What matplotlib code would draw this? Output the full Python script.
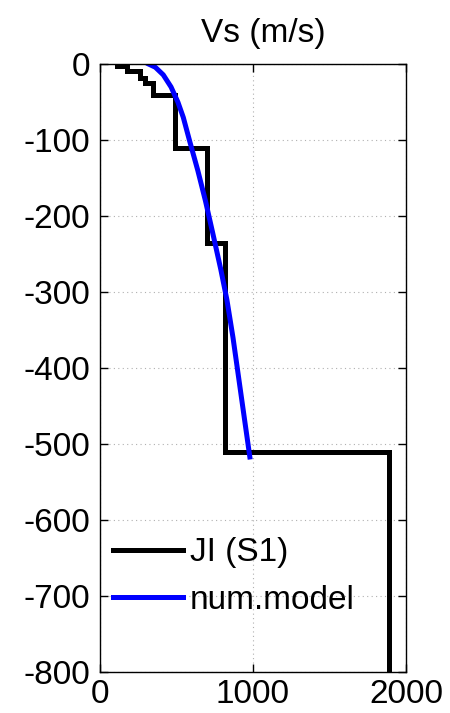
#!/usr/bin/env python3
"""
Vs profile: measured step profile vs numerical model
"""

import matplotlib
matplotlib.use("Agg")
import matplotlib.pyplot as plt

plt.rcParams['font.family'] = ['Liberation Sans', 'DejaVu Sans']
plt.rcParams['axes.unicode_minus'] = False

# measured step profile (layer velocity, layer top, layer bottom)
ji_vs = [111, 180, 260, 292, 345, 490, 702, 820, 1892]
ji_top = [0, -3, -9, -18, -25, -41, -110, -235, -511]
ji_bot = [-3, -9, -18, -25, -41, -110, -235, -511, -800]

# numerical model curve
model_vs = [320, 362, 414, 465, 510, 545, 585, 640, 690, 735, 790, 830, 870, 905, 940, 980]
model_depth = [0, -4, -14, -30, -50, -70, -100, -140, -180, -220, -270, -310, -360, -410, -460, -517]

# build staircase from layers
step_x, step_y = [], []
for v, t, b in zip(ji_vs, ji_top, ji_bot):
    step_x += [v, v]
    step_y += [t, b]

fig = plt.figure(figsize=(4.5, 7.13), dpi=100)
ax = fig.add_axes([0.222, 0.0575, 0.680, 0.8525])

ax.plot(step_x, step_y, color='black', linewidth=3.6, label='JI (S1)',
        solid_joinstyle='miter')
ax.plot(model_vs, model_depth, color='#0000ff', linewidth=3.6, label='num.model')

ax.set_xlim(0, 2000)
ax.set_ylim(-800, 0)
ax.set_xticks([0, 1000, 2000])
ax.set_yticks(range(-800, 1, 100))
ax.grid(True, color='#b0b0b0', linestyle=(0, (1, 3)), linewidth=0.8)
ax.tick_params(direction='in', length=6, width=1, top=True, right=True,
               labelsize=24)
ax.tick_params(axis='y', pad=7)
ax.tick_params(axis='x', pad=5)
for s in ax.spines.values():
    s.set_linewidth(1)
    s.set_color('black')

ax.set_title('Vs (m/s)', fontsize=24, pad=16, x=0.533)

leg = ax.legend(loc='lower left', frameon=False, fontsize=24,
                handlelength=2.1, handletextpad=0.2, labelspacing=0.5,
                borderpad=0.4, borderaxespad=0, bbox_to_anchor=(0.0, 0.07))

plt.savefig('out.png', dpi=100)
